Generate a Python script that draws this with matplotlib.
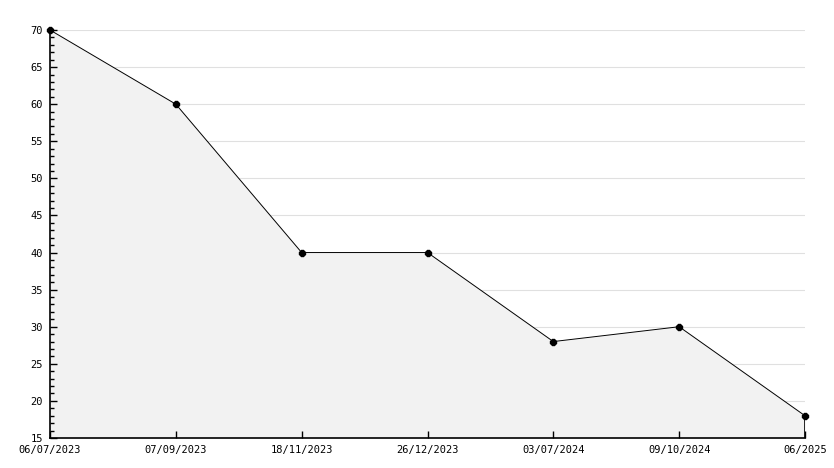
import matplotlib
matplotlib.use("Agg")
import matplotlib.pyplot as plt
from matplotlib.ticker import MultipleLocator

# data
dates = ["06/07/2023", "07/09/2023", "18/11/2023", "26/12/2023",
         "03/07/2024", "09/10/2024", "06/2025"]
values = [70, 60, 40, 40, 28, 30, 18]
y_min = 15
y_max = 70

fig = plt.figure(figsize=(8.34, 4.68), dpi=100)
ax = fig.add_axes([50 / 834, 30 / 468, 755 / 834, 408 / 468])

x = list(range(len(dates)))

ax.fill_between(x, values, y_min, color="#f2f2f2", linewidth=0, zorder=1)
ax.plot(x, values, color="black", linewidth=0.7, marker="8",
        markersize=4.5, zorder=5, clip_on=False)
ax.vlines(x[-1], y_min, values[-1], color="black", linewidth=1.2, zorder=3)

ax.set_xlim(x[0], x[-1])
ax.set_ylim(y_min, y_max)
ax.set_xticks(x)
ax.set_xticklabels(dates)
ax.yaxis.set_major_locator(MultipleLocator(5))
ax.yaxis.set_minor_locator(MultipleLocator(1))

# horizontal grid
for v in range(y_min + 5, y_max + 1, 5):
    ax.axhline(v, color="#e0e0e0", linewidth=0.8, zorder=0)

for s in ["top", "right"]:
    ax.spines[s].set_visible(False)
for s in ["left", "bottom"]:
    ax.spines[s].set_linewidth(1.2)
    ax.spines[s].set_zorder(4)

ax.tick_params(axis="y", which="major", direction="in", length=5, width=1,
               labelsize=7.5, pad=5)
ax.tick_params(axis="y", which="minor", direction="in", length=3, width=1)
ax.tick_params(axis="x", which="major", direction="in", length=5, width=1,
               labelsize=7.5, pad=5)
for lab in ax.get_xticklabels() + ax.get_yticklabels():
    lab.set_family("DejaVu Sans Mono")

fig.savefig("out.png", dpi=100)
